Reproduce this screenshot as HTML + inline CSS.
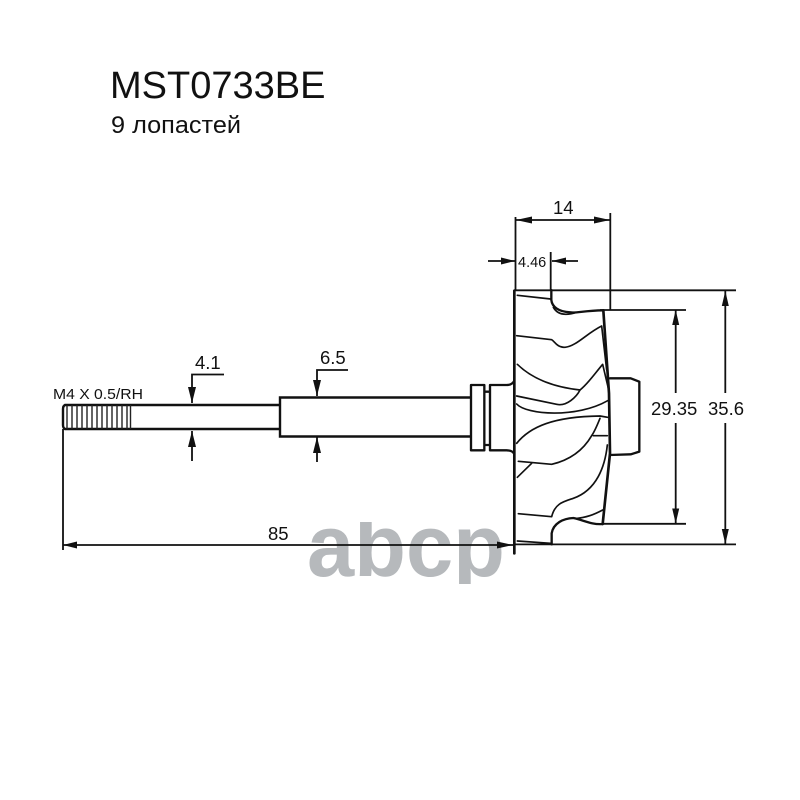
<!DOCTYPE html>
<html><head><meta charset="utf-8"><style>
html,body{margin:0;padding:0;background:#fff}
svg{display:block}
text{font-family:"Liberation Sans",sans-serif;fill:#111}
</style></head><body>
<svg width="800" height="800" viewBox="0 0 800 800" xmlns="http://www.w3.org/2000/svg">
<defs><clipPath id="logo"><rect x="300" y="522" width="210" height="62"/></clipPath></defs>
<rect width="800" height="800" fill="#fff"/>
<g clip-path="url(#logo)"><text x="307" y="576" font-size="88" font-weight="bold" textLength="198" lengthAdjust="spacingAndGlyphs" style="fill:#b6b9bc">abcp</text></g>
<text x="110" y="98" font-size="38">MST0733BE</text>
<text x="111" y="133" font-size="24" textLength="130" lengthAdjust="spacingAndGlyphs">9 лопастей</text>

<g fill="none" stroke="#111" stroke-width="1.8">
<path d="M515.500 217V290M610.300 213V310M550.700 252V290"/>
<path d="M516 220H610M488 261H515M578 261H552"/>
<path d="M514 290.300H736M600 310H686M602 523.800H686M514 544.400H736"/>
<path d="M675.700 310V393M675.700 423V523M725.300 291V393M725.300 423V544"/>
<path d="M63 429V550M63 545H514"/>
<path d="M224 374.500H192V403M192 431V461M348 370H317V396M317 437V462"/>
</g>
<g fill="#111">
<path d="M516 220l16-3.500v7zM610 220l-16-3.500v7z"/>
<path d="M515 261l-14-3.500v7zM552 261l14-3.500v7z"/>
<path d="M675.700 310l-3.500 15h7zM675.700 523.500l-3.500-15h7zM725.300 291l-3.500 15h7zM725.300 544l-3.500-15h7z"/>
<path d="M513 545l-16-3.500v7zM63 545l14-3.500v7z"/>
<path d="M192 403l-4-16h8zM192 431l-4 16h8zM317 396l-4-16h8zM317 437l-4 16h8z"/>
</g>

<g fill="none" stroke="#111" stroke-width="2.400">
<path d="M131 405H65Q63 406 63 409V425Q63 428 65 429H131"/>
<path d="M131 405H280M131 429H280"/>
<path d="M280 429V436.500H471M280 405V397.500H471M280 397.500V436.500"/>
</g>
<g fill="none" stroke="#222" stroke-width="1.400">
<path d="M67 405V429M72 405V429M77 405V429M82 405V429M87 405V429M92 405V429M97 405V429M102 405V429M107 405V429M112 405V429M117 405V429M122 405V429M127 405V429M130.500 405V429"/>
</g>

<g transform="translate(460 270) scale(0.33333)" fill="none" stroke="#111" stroke-linecap="round" stroke-linejoin="round">
<path stroke-width="8" d="M163 62V850"/>
<path stroke-width="7" d="M33 345H73V541H33ZM73 365H90M73 525H90M90 345H140Q157 345 163 332M90 541H140Q157 541 163 552M90 345V541"/>
<path stroke-width="7" d="M274 60V90C276 110 295 125 330 127C350 130 370 122 430 121"/>
<path stroke-width="7" d="M275 823V790C280 760 310 745 340 744C370 750 395 765 428 762"/>
<path stroke-width="8" d="M430 121L447 370L450 550L428 762"/>
<path stroke-width="7" d="M450 325H512L538 335V545L512 553L450 555"/>
<g stroke-width="5">
<path d="M172 76L272 87"/>
<path d="M280 112C290 130 310 140 350 127"/>
<path d="M170 197L275 209C285 215 290 232 315 232C350 228 380 190 425 168L440 300"/>
<path d="M172 283C210 320 270 350 360 360"/>
<path d="M170 378L290 403C320 410 350 380 360 360C385 340 405 310 428 283L445 355"/>
<path d="M170 402C200 435 350 445 443 392"/>
<path d="M170 520C210 470 280 440 420 438L443 442"/>
<path d="M420 445C410 470 400 490 395 497C370 540 330 570 275 583L175 574"/>
<path d="M400 497H442"/>
<path d="M215 580L172 622"/>
<path d="M442 525C435 590 410 660 340 685C310 695 285 700 275 740L175 731"/>
<path d="M428 720C400 735 380 742 345 746"/>
<path d="M172 813L272 820"/>
</g>
</g>

<g font-size="18.500">
<text x="553" y="214">14</text>
<text x="651" y="415">29.35</text>
<text x="708" y="415">35.6</text>
<text x="268" y="540">85</text>
<text x="195" y="369">4.1</text>
<text x="320" y="364">6.5</text>
</g>
<text x="518" y="267" font-size="14.500">4.46</text>
<text x="53" y="399" font-size="15" textLength="90" lengthAdjust="spacingAndGlyphs">M4 X 0.5/RH</text>
</svg>
</body></html>
